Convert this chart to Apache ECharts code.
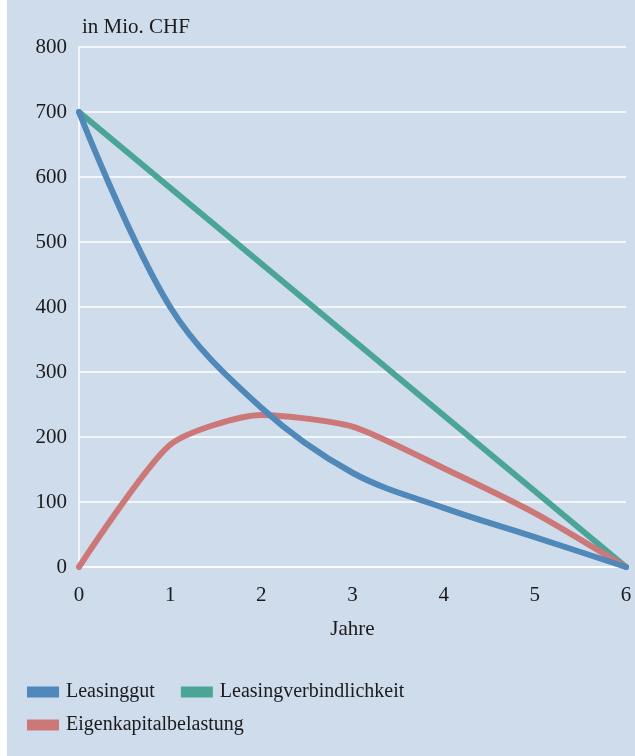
<!DOCTYPE html>
<html>
<head>
<meta charset="utf-8">
<script src="https://cdn.jsdelivr.net/npm/echarts@6/dist/echarts.min.js"></script>
<style>
    html, body { margin: 0; padding: 0; background: #ffffff; }
    #panel { position: absolute; left: 7px; top: 0; width: 628px; height: 756px; background: #cfdcec; }
    #chart { position: absolute; left: 0; top: 0; width: 635px; height: 756px; }
</style>
</head>
<body>
<div id="panel"></div>
<div id="chart"></div>
<script>
// Werte in Mio. CHF
const jahre = [0, 1, 2, 3, 4, 5, 6];
const leasinggut = [700, 400, 245, 145, 91, 46, 0];
const leasingverbindlichkeit = [700, null, null, null, null, null, 0];
const eigenkapitalbelastung = [0, 188, 234, 216, 152, 83, 0];
const yTicks = [0, 100, 200, 300, 400, 500, 600, 700, 800];

const serif = 'Liberation Serif';
const textColor = '#1c1a1b';

function pairs(values) {
    const out = [];
    values.forEach((v, i) => { if (v !== null) out.push([jahre[i], v]); });
    return out;
}

const chart = echarts.init(document.getElementById('chart'));

const option = {
    backgroundColor: 'transparent',
    animation: false,
    title: {
        text: 'in Mio. CHF',
        left: 77,
        top: 12,
        textStyle: { fontFamily: serif, fontSize: 21, fontWeight: 'normal', color: textColor }
    },
    grid: { left: 79, right: 9, top: 47, bottom: 189 },
    xAxis: {
        type: 'value',
        min: 0,
        max: 6,
        interval: 1,
        name: 'Jahre',
        nameLocation: 'middle',
        nameGap: 52,
        nameTextStyle: { fontFamily: serif, fontSize: 21, color: textColor },
        axisLine: { show: true, lineStyle: { color: '#ffffff', width: 1.5 } },
        axisTick: { show: false },
        splitLine: { show: false },
        axisLabel: { margin: 18, fontFamily: serif, fontSize: 21, color: textColor }
    },
    yAxis: {
        type: 'value',
        min: yTicks[0],
        max: yTicks[yTicks.length - 1],
        interval: 100,
        axisLine: { show: true, lineStyle: { color: '#ffffff', width: 1.5 } },
        axisTick: { show: false },
        splitLine: { lineStyle: { color: '#ffffff', width: 1.5 } },
        axisLabel: { margin: 12, fontFamily: serif, fontSize: 21, color: textColor }
    },
    legend: [
        {
            data: ['Leasinggut', 'Leasingverbindlichkeit'],
            left: 22,
            top: 677,
            itemWidth: 32,
            itemHeight: 11,
            itemGap: 26,
            icon: 'rect',
            textStyle: { fontFamily: serif, fontSize: 20, color: textColor, padding: [0, 0, 0, 2] }
        },
        {
            data: ['Eigenkapitalbelastung'],
            left: 22,
            top: 710,
            itemWidth: 32,
            itemHeight: 11,
            icon: 'rect',
            textStyle: { fontFamily: serif, fontSize: 20, color: textColor, padding: [0, 0, 0, 2] }
        }
    ],
    series: [
        {
            name: 'Leasingverbindlichkeit',
            type: 'line',
            data: pairs(leasingverbindlichkeit),
            showSymbol: false,
            z: 2,
            itemStyle: { color: '#4aa596' },
            lineStyle: { width: 6, color: '#4aa596', cap: 'round' }
        },
        {
            name: 'Eigenkapitalbelastung',
            type: 'line',
            data: pairs(eigenkapitalbelastung),
            smooth: 0.22,
            showSymbol: false,
            z: 3,
            itemStyle: { color: '#cc7878' },
            lineStyle: { width: 6, color: '#cc7878', cap: 'round' }
        },
        {
            name: 'Leasinggut',
            type: 'line',
            data: pairs(leasinggut),
            smooth: 0.35,
            showSymbol: false,
            z: 4,
            itemStyle: { color: '#4f88b9' },
            lineStyle: { width: 6, color: '#4f88b9', cap: 'round' }
        }
    ]
};

chart.setOption(option);
</script>
</body>
</html>
